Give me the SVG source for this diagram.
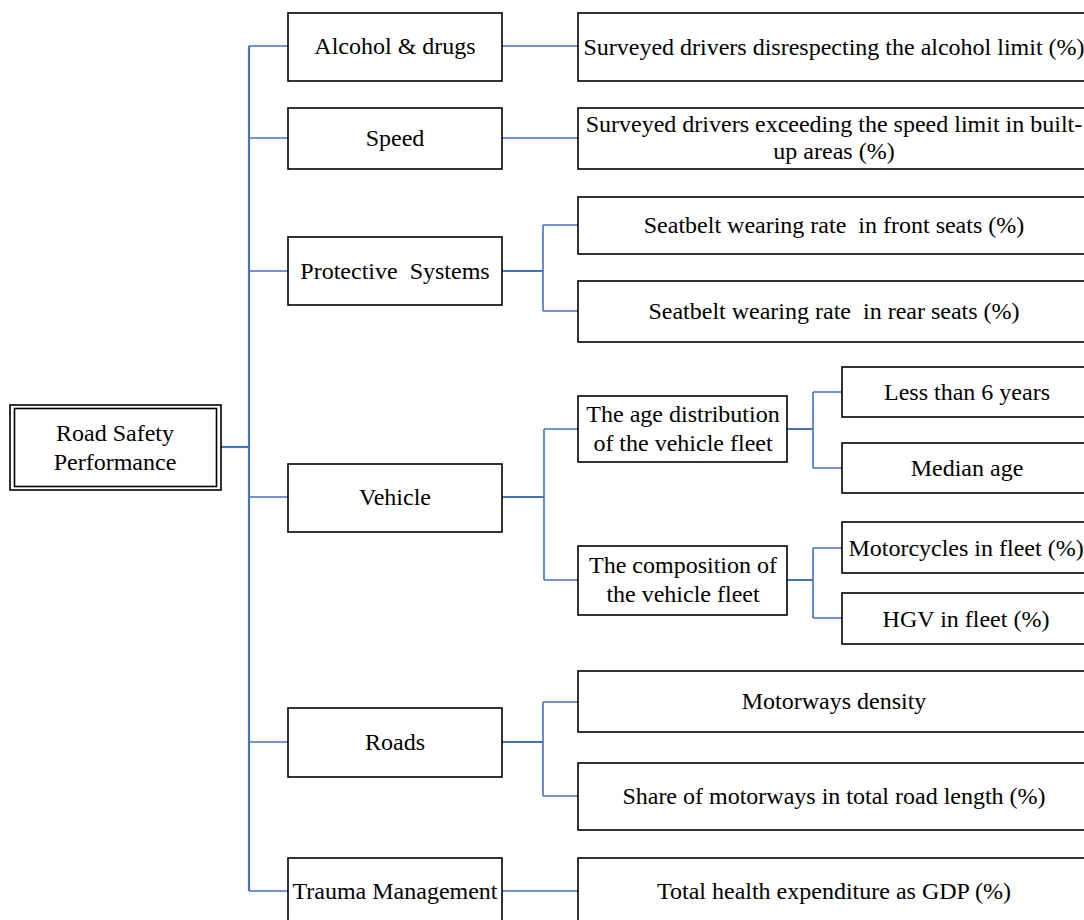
<svg xmlns="http://www.w3.org/2000/svg" width="1084" height="920" viewBox="0 0 1084 920">
<style>
.box{fill:#fff;stroke:#000;stroke-width:1.6}
.t{font-family:"Liberation Serif","Times New Roman",serif;font-size:24px;fill:#000;text-anchor:middle}
.c{fill:none;stroke:#4472C4;stroke-width:1.6}
.c2{fill:none;stroke:#4472C4;stroke-width:2.2}
</style>
<rect width="1084" height="920" fill="#fff"/>
<g id="connectors">
<path class="c2" d="M221,447 H249"/>
<path class="c2" d="M249,46 V891"/>
<path class="c" d="M249,46 H288 M249,138 H288 M249,271 H288 M249,497 H288 M249,742 H288 M249,891 H288"/>
<path class="c" d="M502,46 H578 M502,138 H578 M502,891 H578"/>
<path class="c2" d="M502,271 H543"/>
<path class="c" d="M543,225 V311 M543,225 H578 M543,311 H578"/>
<path class="c2" d="M502,497 H544"/>
<path class="c" d="M544,429 V580 M544,429 H578 M544,580 H578"/>
<path class="c2" d="M787,429 H813 M787,580 H813"/>
<path class="c" d="M813,392 V468 M813,392 H842 M813,468 H842"/>
<path class="c" d="M813,548 V618 M813,548 H842 M813,618 H842"/>
<path class="c2" d="M502,742 H543"/>
<path class="c" d="M543,702 V796 M543,702 H578 M543,796 H578"/>
</g>
<g id="root">
<rect x="10" y="405" width="211" height="85" fill="#fff" stroke="#000" stroke-width="1.6"/>
<rect x="14.5" y="408.5" width="202" height="78" fill="none" stroke="#000" stroke-width="1.6"/>
<text class="t" x="115" y="441">Road Safety</text>
<text class="t" x="115" y="470">Performance</text>
</g>
<g id="alcohol"><rect class="box" x="288" y="13" width="214" height="68"/><text class="t" x="395" y="54">Alcohol &amp; drugs</text></g>
<g id="speed"><rect class="box" x="288" y="108" width="214" height="61"/><text class="t" x="395" y="146">Speed</text></g>
<g id="protective"><rect class="box" x="288" y="237" width="214" height="68"/><text class="t" x="395" y="279" xml:space="preserve">Protective  Systems</text></g>
<g id="vehicle"><rect class="box" x="288" y="464" width="214" height="68"/><text class="t" x="395" y="505">Vehicle</text></g>
<g id="roads"><rect class="box" x="288" y="708" width="214" height="69"/><text class="t" x="395" y="750">Roads</text></g>
<g id="trauma"><rect class="box" x="288" y="858" width="214" height="70"/><text class="t" x="395" y="899">Trauma Management</text></g>
<g id="alcohol-limit"><rect class="box" x="578" y="13" width="520" height="68"/><text class="t" x="834" y="55">Surveyed drivers disrespecting the alcohol limit (%)</text></g>
<g id="speed-limit"><rect class="box" x="578" y="108" width="520" height="61"/><text class="t" x="834" y="132">Surveyed drivers exceeding the speed limit in built-</text><text class="t" x="834" y="159">up areas (%)</text></g>
<g id="seatbelt-front"><rect class="box" x="578" y="197" width="520" height="57"/><text class="t" x="834" y="233" xml:space="preserve">Seatbelt wearing rate  in front seats (%)</text></g>
<g id="seatbelt-rear"><rect class="box" x="578" y="281" width="520" height="61"/><text class="t" x="834" y="319" xml:space="preserve">Seatbelt wearing rate  in rear seats (%)</text></g>
<g id="age-distribution"><rect class="box" x="578" y="396" width="209" height="66"/><text class="t" x="683" y="422">The age distribution</text><text class="t" x="683" y="451">of the vehicle fleet</text></g>
<g id="composition"><rect class="box" x="578" y="546" width="209" height="69"/><text class="t" x="683" y="573">The composition of</text><text class="t" x="683" y="602">the vehicle fleet</text></g>
<g id="less-than-6"><rect class="box" x="842" y="367" width="256" height="50"/><text class="t" x="967" y="400">Less than 6 years</text></g>
<g id="median-age"><rect class="box" x="842" y="443" width="256" height="50"/><text class="t" x="967" y="476">Median age</text></g>
<g id="motorcycles"><rect class="box" x="842" y="522" width="256" height="51"/><text class="t" x="966" y="556">Motorcycles in fleet (%)</text></g>
<g id="hgv"><rect class="box" x="842" y="593" width="256" height="51"/><text class="t" x="966" y="627">HGV in fleet (%)</text></g>
<g id="motorways-density"><rect class="box" x="578" y="671" width="520" height="61"/><text class="t" x="834" y="709">Motorways density</text></g>
<g id="motorways-share"><rect class="box" x="578" y="763" width="520" height="67"/><text class="t" x="834" y="804">Share of motorways in total road length (%)</text></g>
<g id="health-expenditure"><rect class="box" x="578" y="858" width="520" height="70"/><text class="t" x="834" y="899">Total health expenditure as GDP (%)</text></g>
</svg>
